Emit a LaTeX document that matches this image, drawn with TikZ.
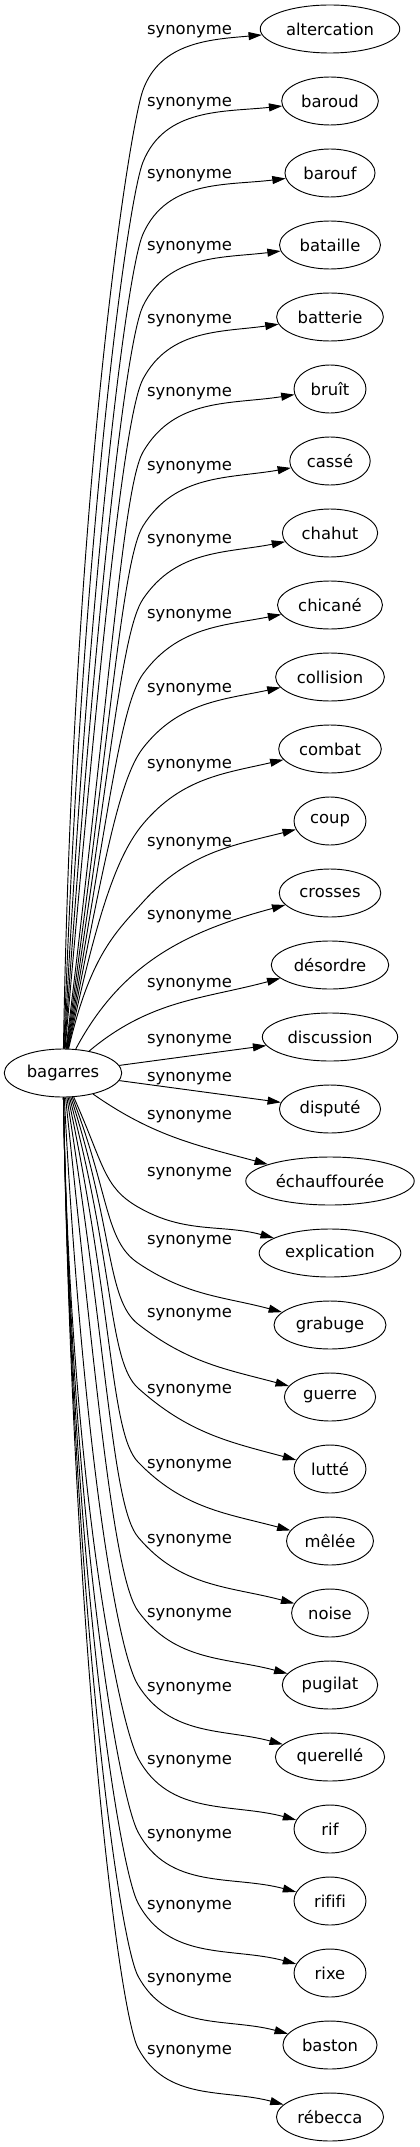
\documentclass[tikz,border=0pt]{standalone}
\usepackage{fontspec}
\setmainfont{DejaVu Sans}[Ligatures=NoCommon]
\usetikzlibrary{arrows.meta,shapes.geometric}

\tikzset{
	word/.style={ellipse, draw=black, line width=0.7pt, minimum width=54pt, minimum height=36pt, inner xsep=4pt, font=\fontsize{12.3}{14}\selectfont},
	syn/.style={inner sep=0pt, font=\fontsize{12.3}{14}\selectfont},
	edge/.style={line width=0.7pt, -{Triangle[length=10pt, width=6pt]}},
	lead/.style={out looseness=1.5, in distance=30pt}
}

\begin{document}
\begin{tikzpicture}[x=0.75pt, y=0.75pt]
	\useasboundingbox (0,0) rectangle (419,-2147);

	% Root word on the left
	\node[word] (bagarres) at (63,-1073) {bagarres};

	% Synonyms in one column
	\node[word] (altercation) at (330,-29) {altercation};
	\node[word] (baroud) at (330,-101) {baroud};
	\node[word] (barouf) at (330,-173) {barouf};
	\node[word] (bataille) at (330,-245) {bataille};
	\node[word] (batterie) at (330,-317) {batterie};
	\node[word] (bruit) at (330,-389) {bruît};
	\node[word] (casse) at (330,-461) {cassé};
	\node[word] (chahut) at (330,-533) {chahut};
	\node[word] (chicane) at (330,-605) {chicané};
	\node[word] (collision) at (330,-677) {collision};
	\node[word] (combat) at (330,-749) {combat};
	\node[word] (coup) at (330,-821) {coup};
	\node[word] (crosses) at (330,-893) {crosses};
	\node[word] (desordre) at (330,-965) {désordre};
	\node[word] (discussion) at (330,-1037) {discussion};
	\node[word] (dispute) at (330,-1109) {disputé};
	\node[word] (echauffouree) at (330,-1181) {échauffourée};
	\node[word] (explication) at (330,-1253) {explication};
	\node[word] (grabuge) at (330,-1325) {grabuge};
	\node[word] (guerre) at (330,-1397) {guerre};
	\node[word] (lutte) at (330,-1469) {lutté};
	\node[word] (melee) at (330,-1541) {mêlée};
	\node[word] (noise) at (330,-1613) {noise};
	\node[word] (pugilat) at (330,-1685) {pugilat};
	\node[word] (querelle) at (330,-1757) {querellé};
	\node[word] (rif) at (330,-1829) {rif};
	\node[word] (rififi) at (330,-1901) {rififi};
	\node[word] (rixe) at (330,-1973) {rixe};
	\node[word] (baston) at (330,-2045) {baston};
	\node[word] (rebecca) at (330,-2117) {rébecca};

	% Edge labels
	\node[syn] (l0) at (189.5,-32) {synonyme};
	\node[syn] (l1) at (189.5,-104) {synonyme};
	\node[syn] (l2) at (189.5,-176) {synonyme};
	\node[syn] (l3) at (189.5,-248) {synonyme};
	\node[syn] (l4) at (189.5,-321) {synonyme};
	\node[syn] (l5) at (189.5,-394) {synonyme};
	\node[syn] (l6) at (189.5,-468) {synonyme};
	\node[syn] (l7) at (189.5,-541) {synonyme};
	\node[syn] (l8) at (189.5,-616) {synonyme};
	\node[syn] (l9) at (189.5,-690) {synonyme};
	\node[syn] (l10) at (189.5,-766) {synonyme};
	\node[syn] (l11) at (189.5,-844) {synonyme};
	\node[syn] (l12) at (189.5,-917) {synonyme};
	\node[syn] (l13) at (189.5,-985) {synonyme};
	\node[syn] (l14) at (189.5,-1041) {synonyme};
	\node[syn] (l15) at (189.5,-1079) {synonyme};
	\node[syn] (l16) at (189.5,-1117) {synonyme};
	\node[syn] (l17) at (189.5,-1174) {synonyme};
	\node[syn] (l18) at (189.5,-1242) {synonyme};
	\node[syn] (l19) at (189.5,-1315) {synonyme};
	\node[syn] (l20) at (189.5,-1391) {synonyme};
	\node[syn] (l21) at (189.5,-1466) {synonyme};
	\node[syn] (l22) at (189.5,-1541) {synonyme};
	\node[syn] (l23) at (189.5,-1615) {synonyme};
	\node[syn] (l24) at (189.5,-1689) {synonyme};
	\node[syn] (l25) at (189.5,-1762) {synonyme};
	\node[syn] (l26) at (189.5,-1836) {synonyme};
	\node[syn] (l27) at (189.5,-1907) {synonyme};
	\node[syn] (l28) at (189.5,-1980) {synonyme};
	\node[syn] (l29) at (189.5,-2052) {synonyme};

	% Bend points beside the labels
	\coordinate (w0) at (143,-90);
	\coordinate (w1) at (143,-162);
	\coordinate (w2) at (143,-234);
	\coordinate (w3) at (143,-306);
	\coordinate (w4) at (143,-379);
	\coordinate (w5) at (143,-452);
	\coordinate (w6) at (143,-526);
	\coordinate (w7) at (143,-599);
	\coordinate (w8) at (143,-674);
	\coordinate (w9) at (143,-748);
	\coordinate (w10) at (143,-824);
	\coordinate (w11) at (143,-902);
	\coordinate (w17) at (138,-1207);
	\coordinate (w18) at (138,-1263);
	\coordinate (w19) at (138,-1324);
	\coordinate (w20) at (138,-1388);
	\coordinate (w21) at (138,-1462);
	\coordinate (w22) at (138,-1537);
	\coordinate (w23) at (138,-1611);
	\coordinate (w24) at (138,-1685);
	\coordinate (w25) at (138,-1758);
	\coordinate (w26) at (138,-1832);
	\coordinate (w27) at (138,-1903);
	\coordinate (w28) at (138,-1976);
	\coordinate (w29) at (138,-2048);

	% Edges going up
	\draw[edge] (bagarres) to[out=89, in=250, lead] (w0) to[out=70, in=185] (altercation);
	\draw[edge] (bagarres) to[out=88, in=248, lead] (w1) to[out=68, in=186] (baroud);
	\draw[edge] (bagarres) to[out=87, in=246, lead] (w2) to[out=66, in=187] (barouf);
	\draw[edge] (bagarres) to[out=86, in=244, lead] (w3) to[out=64, in=187] (bataille);
	\draw[edge] (bagarres) to[out=85, in=242, lead] (w4) to[out=62, in=188] (batterie);
	\draw[edge] (bagarres) to[out=83, in=240, lead] (w5) to[out=60, in=189] (bruit);
	\draw[edge] (bagarres) to[out=82, in=238, lead] (w6) to[out=58, in=190] (casse);
	\draw[edge] (bagarres) to[out=81, in=236, lead] (w7) to[out=56, in=191] (chahut);
	\draw[edge] (bagarres) to[out=80, in=234, lead] (w8) to[out=54, in=191] (chicane);
	\draw[edge] (bagarres) to[out=79, in=232, lead] (w9) to[out=52, in=192] (collision);
	\draw[edge] (bagarres) to[out=78, in=230, lead] (w10) to[out=50, in=193] (combat);
	\draw[edge] (bagarres) to[out=77, in=228, lead] (w11) to[out=48, in=194] (coup);
	\draw[edge] (bagarres) to[out=62, in=195] (crosses);
	\draw[edge] (bagarres) to[out=40, in=195] (desordre);

	% Edges near the middle
	\draw[edge] (bagarres) -- (discussion);
	\draw[edge] (bagarres) -- (dispute);
	\draw[edge] (bagarres) to[out=-35, in=165] (echauffouree);

	% Edges going down
	\draw[edge] (bagarres) to[out=-66, in=150, lead] (w17) to[out=-30, in=165] (explication);
	\draw[edge] (bagarres) to[out=-69, in=146, lead] (w18) to[out=-34, in=165] (grabuge);
	\draw[edge] (bagarres) to[out=-72, in=142, lead] (w19) to[out=-38, in=165] (guerre);
	\draw[edge] (bagarres) to[out=-75, in=138, lead] (w20) to[out=-42, in=165] (lutte);
	\draw[edge] (bagarres) to[out=-78, in=134, lead] (w21) to[out=-46, in=165] (melee);
	\draw[edge] (bagarres) to[out=-81, in=130, lead] (w22) to[out=-50, in=165] (noise);
	\draw[edge] (bagarres) to[out=-84, in=126, lead] (w23) to[out=-54, in=165] (pugilat);
	\draw[edge] (bagarres) to[out=-87, in=122, lead] (w24) to[out=-58, in=165] (querelle);
	\draw[edge] (bagarres) to[out=-89, in=118, lead] (w25) to[out=-62, in=165] (rif);
	\draw[edge] (bagarres) to[out=-89, in=118, lead] (w26) to[out=-62, in=165] (rififi);
	\draw[edge] (bagarres) to[out=-89, in=118, lead] (w27) to[out=-62, in=165] (rixe);
	\draw[edge] (bagarres) to[out=-89, in=118, lead] (w28) to[out=-62, in=165] (baston);
	\draw[edge] (bagarres) to[out=-89, in=118, lead] (w29) to[out=-62, in=165] (rebecca);

\end{tikzpicture}
\end{document}
